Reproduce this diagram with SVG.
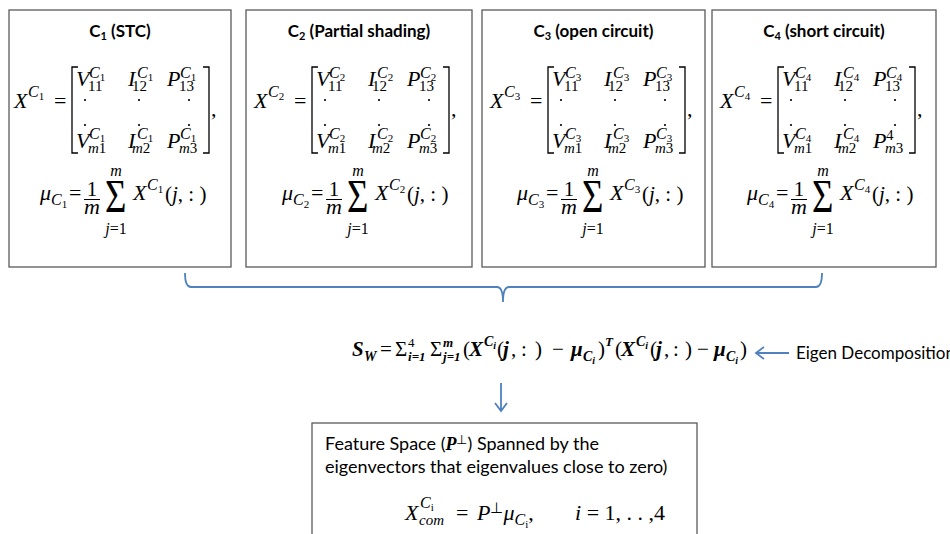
<svg xmlns="http://www.w3.org/2000/svg" width="950" height="534" viewBox="0 0 950 534">
<style>
.box{fill:#fff;stroke:#5a5a5a;stroke-width:1.3}
.t{font-family:Lato,"Open Sans",sans-serif;font-weight:bold;font-size:17px;fill:#000}
.p{font-family:Lato,"Open Sans",sans-serif;font-size:18px;fill:#000}
.e{font-size:17px}
.m{font-family:"Liberation Serif",serif;font-style:italic;font-size:22px;fill:#000}
.r{font-family:"Liberation Serif",serif;font-style:normal;font-size:22px;fill:#000}
.sp{font-size:16px;font-style:italic}
.sd{font-size:11px;font-style:normal}
.sb{font-size:15px;font-style:normal}
.si{font-size:15px;font-style:italic}
.big{font-size:46px}
.lim{font-size:16px}
.one{font-size:21px}
.br{fill:none;stroke:#000;stroke-width:1.3}
.dot{fill:#000}
.blue{fill:none;stroke:#4F81BD;stroke-width:1.8}
.f{font-family:"Liberation Serif",serif;font-style:italic;font-weight:bold;font-size:21px;fill:#000}
.fu{font-style:normal;font-weight:normal}
.fs{font-size:14px}
.fl{font-size:13px}
.fd{font-size:10px}
</style>

<g id="node-c1">
<rect class="box" x="9" y="10" width="222" height="257"/>
<text class="t" x="120" y="37" text-anchor="middle">C<tspan font-size="11" dy="3">1</tspan><tspan dy="-3"> (STC)</tspan></text>
<g transform="translate(72,0)">
<text class="m"><tspan x="-58" y="108">X</tspan><tspan x="-44" y="97" class="sp">C</tspan><tspan y="100" class="sd">1</tspan></text>
<text class="r" x="-18" y="108">=</text>
<path class="br" d="M6,67H0V153H6M131,67H137V153H131"/>
<text class="r" x="139" y="116">,</text>
<text class="m"><tspan x="4" y="86">V</tspan><tspan x="17" y="78" class="sp">C</tspan><tspan y="81" class="sd">1</tspan><tspan x="16" y="91" class="sb">11</tspan></text>
<text class="m"><tspan x="56" y="86">I</tspan><tspan x="65" y="78" class="sp">C</tspan><tspan y="81" class="sd">1</tspan><tspan x="60" y="91" class="sb">12</tspan></text>
<text class="m"><tspan x="95" y="86">P</tspan><tspan x="108" y="78" class="sp">C</tspan><tspan y="81" class="sd">1</tspan><tspan x="107" y="91" class="sb">13</tspan></text>
<circle class="dot" cx="13" cy="100" r="1.1"/><circle class="dot" cx="67" cy="100" r="1.1"/><circle class="dot" cx="117" cy="100" r="1.1"/>
<circle class="dot" cx="13" cy="125" r="1.1"/><circle class="dot" cx="67" cy="125" r="1.1"/><circle class="dot" cx="117" cy="125" r="1.1"/>
<text class="m"><tspan x="4" y="148">V</tspan><tspan x="17" y="139" class="sp">C</tspan><tspan y="142" class="sd">1</tspan><tspan x="16" y="153" class="si">m</tspan><tspan class="sb">1</tspan></text>
<text class="m"><tspan x="56" y="148">I</tspan><tspan x="65" y="139" class="sp">C</tspan><tspan y="142" class="sd">1</tspan><tspan x="60" y="153" class="si">m</tspan><tspan class="sb">2</tspan></text>
<text class="m"><tspan x="95" y="148">P</tspan><tspan x="108" y="139" class="sp">C</tspan><tspan y="142" class="sd">1</tspan><tspan x="107" y="153" class="si">m</tspan><tspan class="sb">3</tspan></text>
</g>
<g transform="translate(43,0)">
<text class="m"><tspan x="-3" y="200">μ</tspan><tspan x="8" y="205" class="sp">C</tspan><tspan y="208" class="sd">1</tspan></text>
<text class="r" x="26" y="200">=</text>
<text class="r one" x="49" y="196" text-anchor="middle">1</text>
<line x1="41" y1="199.5" x2="57" y2="199.5" stroke="#000" stroke-width="1"/>
<text class="m" x="49" y="214" text-anchor="middle">m</text>
<text class="r big" transform="translate(62,212) scale(0.8,1)">Σ</text>
<text class="m lim" x="73" y="176" text-anchor="middle">m</text>
<text class="m lim" x="73" y="234" text-anchor="middle">j<tspan font-style="normal">=1</tspan></text>
<text class="m"><tspan x="90" y="200">X</tspan><tspan x="104" y="190" class="sp">C</tspan><tspan y="193" class="sd">1</tspan></text>
<text class="r one" x="122" y="201">(<tspan font-style="italic">j</tspan>, : )</text>
</g>
</g>

<g id="node-c2">
<rect class="box" x="246" y="10" width="226" height="257"/>
<text class="t" x="359" y="37" text-anchor="middle">C<tspan font-size="11" dy="3">2</tspan><tspan dy="-3"> (Partial shading)</tspan></text>
<g transform="translate(312,0)">
<text class="m"><tspan x="-58" y="108">X</tspan><tspan x="-44" y="97" class="sp">C</tspan><tspan y="100" class="sd">2</tspan></text>
<text class="r" x="-18" y="108">=</text>
<path class="br" d="M6,67H0V153H6M131,67H137V153H131"/>
<text class="r" x="139" y="116">,</text>
<text class="m"><tspan x="4" y="86">V</tspan><tspan x="17" y="78" class="sp">C</tspan><tspan y="81" class="sd">2</tspan><tspan x="16" y="91" class="sb">11</tspan></text>
<text class="m"><tspan x="56" y="86">I</tspan><tspan x="65" y="78" class="sp">C</tspan><tspan y="81" class="sd">2</tspan><tspan x="60" y="91" class="sb">12</tspan></text>
<text class="m"><tspan x="95" y="86">P</tspan><tspan x="108" y="78" class="sp">C</tspan><tspan y="81" class="sd">2</tspan><tspan x="107" y="91" class="sb">13</tspan></text>
<circle class="dot" cx="13" cy="100" r="1.1"/><circle class="dot" cx="67" cy="100" r="1.1"/><circle class="dot" cx="117" cy="100" r="1.1"/>
<circle class="dot" cx="13" cy="125" r="1.1"/><circle class="dot" cx="67" cy="125" r="1.1"/><circle class="dot" cx="117" cy="125" r="1.1"/>
<text class="m"><tspan x="4" y="148">V</tspan><tspan x="17" y="139" class="sp">C</tspan><tspan y="142" class="sd">2</tspan><tspan x="16" y="153" class="si">m</tspan><tspan class="sb">1</tspan></text>
<text class="m"><tspan x="56" y="148">I</tspan><tspan x="65" y="139" class="sp">C</tspan><tspan y="142" class="sd">2</tspan><tspan x="60" y="153" class="si">m</tspan><tspan class="sb">2</tspan></text>
<text class="m"><tspan x="95" y="148">P</tspan><tspan x="108" y="139" class="sp">C</tspan><tspan y="142" class="sd">2</tspan><tspan x="107" y="153" class="si">m</tspan><tspan class="sb">3</tspan></text>
</g>
<g transform="translate(285,0)">
<text class="m"><tspan x="-3" y="200">μ</tspan><tspan x="8" y="205" class="sp">C</tspan><tspan y="208" class="sd">2</tspan></text>
<text class="r" x="26" y="200">=</text>
<text class="r one" x="49" y="196" text-anchor="middle">1</text>
<line x1="41" y1="199.5" x2="57" y2="199.5" stroke="#000" stroke-width="1"/>
<text class="m" x="49" y="214" text-anchor="middle">m</text>
<text class="r big" transform="translate(62,212) scale(0.8,1)">Σ</text>
<text class="m lim" x="73" y="176" text-anchor="middle">m</text>
<text class="m lim" x="73" y="234" text-anchor="middle">j<tspan font-style="normal">=1</tspan></text>
<text class="m"><tspan x="90" y="200">X</tspan><tspan x="104" y="190" class="sp">C</tspan><tspan y="193" class="sd">2</tspan></text>
<text class="r one" x="122" y="201">(<tspan font-style="italic">j</tspan>, : )</text>
</g>
</g>

<g id="node-c3">
<rect class="box" x="482" y="10" width="223" height="257"/>
<text class="t" x="593.5" y="37" text-anchor="middle">C<tspan font-size="11" dy="3">3</tspan><tspan dy="-3"> (open circuit)</tspan></text>
<g transform="translate(548,0)">
<text class="m"><tspan x="-58" y="108">X</tspan><tspan x="-44" y="97" class="sp">C</tspan><tspan y="100" class="sd">3</tspan></text>
<text class="r" x="-18" y="108">=</text>
<path class="br" d="M6,67H0V153H6M131,67H137V153H131"/>
<text class="r" x="139" y="116">,</text>
<text class="m"><tspan x="4" y="86">V</tspan><tspan x="17" y="78" class="sp">C</tspan><tspan y="81" class="sd">3</tspan><tspan x="16" y="91" class="sb">11</tspan></text>
<text class="m"><tspan x="56" y="86">I</tspan><tspan x="65" y="78" class="sp">C</tspan><tspan y="81" class="sd">3</tspan><tspan x="60" y="91" class="sb">12</tspan></text>
<text class="m"><tspan x="95" y="86">P</tspan><tspan x="108" y="78" class="sp">C</tspan><tspan y="81" class="sd">3</tspan><tspan x="107" y="91" class="sb">13</tspan></text>
<circle class="dot" cx="13" cy="100" r="1.1"/><circle class="dot" cx="67" cy="100" r="1.1"/><circle class="dot" cx="117" cy="100" r="1.1"/>
<circle class="dot" cx="13" cy="125" r="1.1"/><circle class="dot" cx="67" cy="125" r="1.1"/><circle class="dot" cx="117" cy="125" r="1.1"/>
<text class="m"><tspan x="4" y="148">V</tspan><tspan x="17" y="139" class="sp">C</tspan><tspan y="142" class="sd">3</tspan><tspan x="16" y="153" class="si">m</tspan><tspan class="sb">1</tspan></text>
<text class="m"><tspan x="56" y="148">I</tspan><tspan x="65" y="139" class="sp">C</tspan><tspan y="142" class="sd">3</tspan><tspan x="60" y="153" class="si">m</tspan><tspan class="sb">2</tspan></text>
<text class="m"><tspan x="95" y="148">P</tspan><tspan x="108" y="139" class="sp">C</tspan><tspan y="142" class="sd">3</tspan><tspan x="107" y="153" class="si">m</tspan><tspan class="sb">3</tspan></text>
</g>
<g transform="translate(520,0)">
<text class="m"><tspan x="-3" y="200">μ</tspan><tspan x="8" y="205" class="sp">C</tspan><tspan y="208" class="sd">3</tspan></text>
<text class="r" x="26" y="200">=</text>
<text class="r one" x="49" y="196" text-anchor="middle">1</text>
<line x1="41" y1="199.5" x2="57" y2="199.5" stroke="#000" stroke-width="1"/>
<text class="m" x="49" y="214" text-anchor="middle">m</text>
<text class="r big" transform="translate(62,212) scale(0.8,1)">Σ</text>
<text class="m lim" x="73" y="176" text-anchor="middle">m</text>
<text class="m lim" x="73" y="234" text-anchor="middle">j<tspan font-style="normal">=1</tspan></text>
<text class="m"><tspan x="90" y="200">X</tspan><tspan x="104" y="190" class="sp">C</tspan><tspan y="193" class="sd">3</tspan></text>
<text class="r one" x="122" y="201">(<tspan font-style="italic">j</tspan>, : )</text>
</g>
</g>

<g id="node-c4">
<rect class="box" x="712" y="10" width="224" height="257"/>
<text class="t" x="824" y="37" text-anchor="middle">C<tspan font-size="11" dy="3">4</tspan><tspan dy="-3"> (short circuit)</tspan></text>
<g transform="translate(778,0)">
<text class="m"><tspan x="-58" y="108">X</tspan><tspan x="-44" y="97" class="sp">C</tspan><tspan y="100" class="sd">4</tspan></text>
<text class="r" x="-18" y="108">=</text>
<path class="br" d="M6,67H0V153H6M131,67H137V153H131"/>
<text class="r" x="139" y="116">,</text>
<text class="m"><tspan x="4" y="86">V</tspan><tspan x="17" y="78" class="sp">C</tspan><tspan y="81" class="sd">4</tspan><tspan x="16" y="91" class="sb">11</tspan></text>
<text class="m"><tspan x="56" y="86">I</tspan><tspan x="65" y="78" class="sp">C</tspan><tspan y="81" class="sd">4</tspan><tspan x="60" y="91" class="sb">12</tspan></text>
<text class="m"><tspan x="95" y="86">P</tspan><tspan x="108" y="78" class="sp">C</tspan><tspan y="81" class="sd">4</tspan><tspan x="107" y="91" class="sb">13</tspan></text>
<circle class="dot" cx="13" cy="100" r="1.1"/><circle class="dot" cx="67" cy="100" r="1.1"/><circle class="dot" cx="117" cy="100" r="1.1"/>
<circle class="dot" cx="13" cy="125" r="1.1"/><circle class="dot" cx="67" cy="125" r="1.1"/><circle class="dot" cx="117" cy="125" r="1.1"/>
<text class="m"><tspan x="4" y="148">V</tspan><tspan x="17" y="139" class="sp">C</tspan><tspan y="142" class="sd">4</tspan><tspan x="16" y="153" class="si">m</tspan><tspan class="sb">1</tspan></text>
<text class="m"><tspan x="56" y="148">I</tspan><tspan x="65" y="139" class="sp">C</tspan><tspan y="142" class="sd">4</tspan><tspan x="60" y="153" class="si">m</tspan><tspan class="sb">2</tspan></text>
<text class="m"><tspan x="95" y="148">P</tspan><tspan x="108" y="140" class="sb">4</tspan><tspan x="107" y="153" class="si">m</tspan><tspan class="sb">3</tspan></text>
</g>
<g transform="translate(750,0)">
<text class="m"><tspan x="-3" y="200">μ</tspan><tspan x="8" y="205" class="sp">C</tspan><tspan y="208" class="sd">4</tspan></text>
<text class="r" x="26" y="200">=</text>
<text class="r one" x="49" y="196" text-anchor="middle">1</text>
<line x1="41" y1="199.5" x2="57" y2="199.5" stroke="#000" stroke-width="1"/>
<text class="m" x="49" y="214" text-anchor="middle">m</text>
<text class="r big" transform="translate(62,212) scale(0.8,1)">Σ</text>
<text class="m lim" x="73" y="176" text-anchor="middle">m</text>
<text class="m lim" x="73" y="234" text-anchor="middle">j<tspan font-style="normal">=1</tspan></text>
<text class="m"><tspan x="90" y="200">X</tspan><tspan x="104" y="190" class="sp">C</tspan><tspan y="193" class="sd">4</tspan></text>
<text class="r one" x="122" y="201">(<tspan font-style="italic">j</tspan>, : )</text>
</g>
</g>

<g id="node-sw">
<text class="f"><tspan x="352" y="356">S</tspan><tspan x="364" y="361" class="fs">W</tspan><tspan x="380" y="356" class="fu">=</tspan><tspan x="395" y="356" class="fu">Σ</tspan><tspan x="408" y="347" class="fl fu">4</tspan><tspan x="408" y="361" class="fl">i</tspan><tspan class="fl">=1</tspan><tspan x="430" y="356" class="fu">Σ</tspan><tspan x="443" y="347" class="fl">m</tspan><tspan x="443" y="361" class="fl">j</tspan><tspan class="fl">=1</tspan><tspan x="463" y="356" class="fu">(</tspan><tspan x="469">X</tspan><tspan x="484" y="346" class="fs">C</tspan><tspan y="349" class="fd">i</tspan><tspan x="497" y="356" class="fu">(</tspan><tspan x="503">j</tspan><tspan x="511" class="fu">,</tspan><tspan x="521" class="fu">:</tspan><tspan x="535" class="fu">)</tspan><tspan x="552" class="fu">−</tspan><tspan x="571">μ</tspan><tspan x="583" y="361" class="fs">C</tspan><tspan y="364" class="fd">i</tspan><tspan x="598" y="356" class="fu">)</tspan><tspan x="605" y="346" class="fl">T</tspan><tspan x="615" y="356" class="fu">(</tspan><tspan x="621">X</tspan><tspan x="636" y="346" class="fs">C</tspan><tspan y="349" class="fd">i</tspan><tspan x="650" y="356" class="fu">(</tspan><tspan x="656">j</tspan><tspan x="664" class="fu">,</tspan><tspan x="673" class="fu">:</tspan><tspan x="685" class="fu">)</tspan><tspan x="697" class="fu">−</tspan><tspan x="714">μ</tspan><tspan x="726" y="361" class="fs">C</tspan><tspan y="364" class="fd">i</tspan><tspan x="740" y="356" class="fu">)</tspan></text>
</g>

<g id="node-eigen">
<text class="p e" x="796" y="359">Eigen Decomposition</text>
</g>

<g id="node-feature">
<rect class="box" x="312" y="423" width="385" height="120"/>
<text class="p" x="325" y="450">Feature Space (<tspan font-family="Liberation Serif" font-style="italic" font-weight="bold">P</tspan><tspan font-family="Liberation Serif" font-size="13" dy="-6">⊥</tspan><tspan dy="6">) Spanned by the</tspan></text>
<text class="p" x="325" y="473">eigenvectors  that eigenvalues close to zero)</text>
<text class="m"><tspan x="405" y="520">X</tspan><tspan x="420" y="508" class="sp">C</tspan><tspan y="511" class="sd" font-style="italic">i</tspan><tspan x="419" y="525" class="si">com</tspan><tspan x="456" y="520" font-style="normal">=</tspan><tspan x="477" y="520">P</tspan><tspan font-style="normal" class="sb" dy="-7">⊥</tspan><tspan dy="7">μ</tspan><tspan dy="5" class="sp">C</tspan><tspan dy="3" class="sd" font-style="italic">i</tspan><tspan dy="-8" font-style="normal">,</tspan><tspan x="575" y="520">i</tspan><tspan font-style="normal"> = 1, . . ,4</tspan></text>
</g>

<g id="connectors">
<path class="blue" d="M185,273Q185,287 191,287L497,287Q503,287 503,302Q503,287 509,287L816,287Q822,287 822,273"/>
<path class="blue" d="M789,353H757M764,347L756,353L764,359" stroke-width="1.5"/>
<path class="blue" d="M501,383V411M495,403L501,411L507,403" stroke-width="1.5"/>
</g>
</svg>
